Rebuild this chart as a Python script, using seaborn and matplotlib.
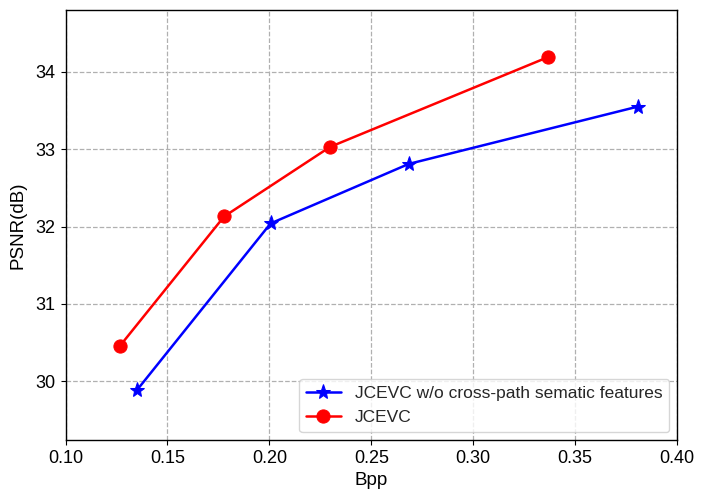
import matplotlib
matplotlib.use("Agg")
import matplotlib.pyplot as plt
import seaborn as sns
import pandas as pd

bpp_wo = [0.1349, 0.2006, 0.2684, 0.3806]
psnr_wo = [29.88, 32.04, 32.81, 33.55]
bpp_jcevc = [0.1265, 0.1778, 0.2298, 0.3366]
psnr_jcevc = [30.45, 32.13, 33.03, 34.19]
label_wo = "JCEVC w/o cross-path sematic features"
label_jcevc = "JCEVC"
x_ticks = [0.10, 0.15, 0.20, 0.25, 0.30, 0.35, 0.40]
y_ticks = [30, 31, 32, 33, 34]

sns.set_theme(style="white")
plt.rcParams['font.family'] = ['Liberation Sans', 'DejaVu Sans']

df_wo = pd.DataFrame({"Bpp": bpp_wo, "PSNR": psnr_wo})
df_j = pd.DataFrame({"Bpp": bpp_jcevc, "PSNR": psnr_jcevc})

fig = plt.figure(figsize=(7.06, 5.01), dpi=100)
ax = fig.add_axes([0.0928, 0.1218, 0.959 - 0.0928, 0.980 - 0.1218])

sns.lineplot(data=df_wo, x="Bpp", y="PSNR", ax=ax, color="blue", marker="*",
             markersize=11, markeredgecolor="blue", linewidth=1.8, label=label_wo)
sns.lineplot(data=df_j, x="Bpp", y="PSNR", ax=ax, color="red", marker="o",
             markersize=9.5, markeredgecolor="red", linewidth=1.8, label=label_jcevc)

ax.set_xlim(0.10, 0.40)
ax.set_ylim(29.24, 34.80)
ax.set_xticks(x_ticks)
ax.set_xticklabels([f"{t:.2f}" for t in x_ticks])
ax.set_yticks(y_ticks)
ax.grid(True, linestyle="--", color="#b0b0b0", linewidth=0.9)
ax.tick_params(axis="both", labelsize=13, direction="out", length=3.5, width=0.8,
               colors="black", bottom=True, left=True, pad=4)
for s in ax.spines.values():
    s.set_color("black")
    s.set_linewidth(1.0)
ax.set_xlabel("Bpp", fontsize=13.5, color="black", labelpad=3)
ax.set_ylabel("PSNR(dB)", fontsize=13.5, color="black", labelpad=6)
leg = ax.legend(loc="lower right", fontsize=12.5, frameon=True, fancybox=True,
                framealpha=0.8, edgecolor="#cccccc", borderaxespad=0.45)
fig.savefig("out.png", dpi=100)
